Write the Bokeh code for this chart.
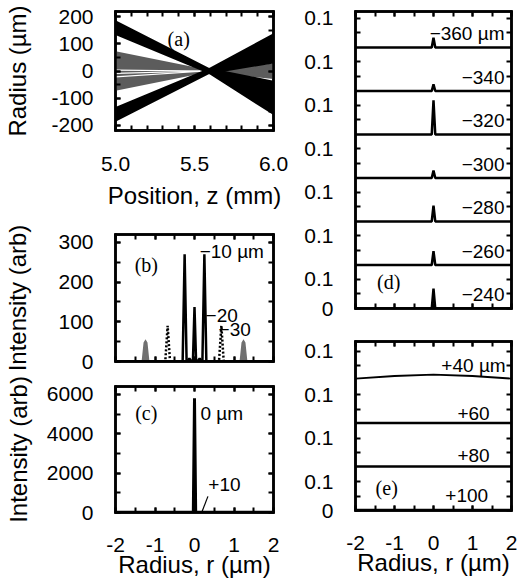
from bokeh.plotting import figure
from bokeh.layouts import row, column
from bokeh.models import (Range1d, LinearAxis, SingleIntervalTicker, FixedTicker, Label,
                          CustomJSTickFormatter)
from bokeh.embed import file_html
from bokeh.resources import INLINE

# ---------------- data ----------------
# (a) ray bundles: radius (um) at z = 5.0, waist, 6.0 mm
a_z = [5.0, 5.59, 6.0]
a_black_down_top = [188, 12, -36]
a_black_down_bot = [133, -10, -163]
a_black_up_top = [-133, 10, 140]
a_black_up_bot = [-188, -12, 28]
a_grey_down_top = [73, 4, 5]
a_grey_down_bot = [0, -4, -30]
a_grey_up_top = [0, 4, 28]
a_grey_up_bot = [-73, -4, -5]
a_white_z = [5.0, 5.57]
a_white_r0 = [3, -9, -22]

# (b) intensity profiles before focus
b_m10_x = [-2, -0.30, -0.25, -0.20, 0.20, 0.25, 0.30, 2]
b_m10_y = [0, 0, 270, 0, 0, 270, 0, 0]
b_m20_x = [-2, -0.18, -0.13, -0.08, -0.04, 0, 0.04, 0.08, 0.13, 0.18, 2]
b_m20_y = [0, 0, 8, 0, 0, 137, 0, 0, 8, 0, 0]
b_m30_x = [-2, -0.74, -0.68, -0.62, 0.62, 0.68, 0.74, 2]
b_m30_y = [0, 0, 90, 0, 0, 90, 0, 0]
b_m40_x = [-2, -1.34, -1.29, -1.24, -1.19, -1.14, 1.14, 1.19, 1.24, 1.29, 1.34, 2]
b_m40_y = [0, 0, 48, 56, 48, 0, 0, 48, 56, 48, 0, 0]
b_labels = ["\u221210 \u00b5m", "\u221220", "\u221230"]

# (c) at focus
c_0_x = [-2, -0.03, 0, 0.03, 2]
c_0_y = [0, 0, 5800, 0, 0]
c_p10_x = [-2, -1, 0, 1, 2]
c_p10_y = [20, 20, 30, 20, 20]
c_lead_x = [0.34, 0.19]
c_lead_y = [820, 40]
c_labels = ["0 \u00b5m", "+10"]

# (d) stacked profiles (-360 ... -240 um)
d_labels = ["\u2212360 \u00b5m", "\u2212340", "\u2212320", "\u2212300", "\u2212280", "\u2212260", "\u2212240"]
d_peak = [0.034, 0.023, 0.118, 0.026, 0.055, 0.048, 0.069]
d_x = [-2, -0.045, 0, 0.045, 2]

# (e) stacked profiles (+40 ... +100 um)
e_labels = ["+40 \u00b5m", "+60", "+80", "+100"]
e_x = [-2, -1, 0, 1, 2]
e_vals = [
    [0.005, 0.014, 0.019, 0.014, 0.005],
    [0.002, 0.002, 0.002, 0.002, 0.002],
    [0.002, 0.002, 0.002, 0.002, 0.002],
    [0.002, 0.002, 0.002, 0.002, 0.002],
]

STEP = 0.15  # vertical offset between stacked curves

FONT = "Liberation Sans"
SERIF = "Liberation Serif"
TICK = "21px"
TITLE = "24px"
ANNOT = "19px"

L_BL, L_FW, L_BR = 115, 158, 19
R_BL, R_FW, R_BR = 63, 156, 6


def base_fig(xr, yr, fw, fh, bl, br, bt, bb):
    p = figure(x_range=Range1d(*xr), y_range=Range1d(*yr),
               frame_width=fw, frame_height=fh,
               min_border_left=bl, min_border_right=br,
               min_border_top=bt, min_border_bottom=bb,
               output_backend="svg", toolbar_location=None)
    p.xgrid.visible = False
    p.ygrid.visible = False
    p.outline_line_color = "black"
    p.outline_line_width = 2.5
    p.background_fill_color = "white"
    p.border_fill_color = "white"
    return p


def tick_style(ax):
    ax.axis_line_color = "black"
    ax.axis_line_width = 2.5
    ax.axis_line_cap = "square"
    ax.major_tick_in = 5
    ax.major_tick_out = 0
    ax.minor_tick_in = 5
    ax.minor_tick_out = 0
    ax.major_tick_line_width = 2
    ax.minor_tick_line_width = 2
    ax.major_tick_line_color = "black"
    ax.minor_tick_line_color = "black"


def shown(ax, standoff, code):
    ax.formatter = CustomJSTickFormatter(code=code)
    ax.major_label_text_font = FONT
    ax.major_label_text_font_size = TICK
    ax.major_label_text_color = "black"
    ax.major_label_standoff = standoff


def hidden(ax):
    ax.formatter = CustomJSTickFormatter(code="return '';")
    ax.major_label_text_color = None
    ax.major_label_text_font_size = "1px"
    ax.major_label_standoff = 0


INT_FMT = "return tick.toFixed(0);"


def axes(p, xticker, yticker, xcode=None, ycode=INT_FMT, xstand=25):
    bx = p.below[0]
    ly = p.left[0]
    bx.ticker = xticker
    ly.ticker = yticker
    top = LinearAxis(ticker=xticker)
    right = LinearAxis(ticker=yticker)
    p.add_layout(top, "above")
    p.add_layout(right, "right")
    for ax in (bx, ly, top, right):
        tick_style(ax)
    hidden(top)
    hidden(right)
    if xcode is not None:
        shown(bx, xstand, xcode)
    else:
        hidden(bx)
    shown(ly, 22, ycode)
    return bx, ly


def title(ax, text, standoff):
    ax.axis_label = text
    ax.axis_label_text_font = FONT
    ax.axis_label_text_font_size = TITLE
    ax.axis_label_text_font_style = "normal"
    ax.axis_label_text_color = "black"
    ax.axis_label_standoff = standoff


def note(p, x, y, text, align="left", font=FONT, size=ANNOT):
    p.add_layout(Label(x=x, y=y, text=text, text_font=font, text_font_size=size,
                       text_color="black", text_align=align, text_baseline="middle"))


# ---------------- (a) ----------------
pa = base_fig((5.0, 6.0), (-220, 220), L_FW, 119, L_BL, L_BR, 11, 78)
bx, ly = axes(pa, SingleIntervalTicker(interval=0.5, num_minor_ticks=5),
              SingleIntervalTicker(interval=100, num_minor_ticks=2),
              xcode="return tick.toFixed(1);", xstand=26)
title(ly, "Radius (\u00b5m)", 17)
title(bx, "Position, z (mm)", 8)
GREY_A = "#5c5c5c"
pa.varea(x=a_z, y1=a_grey_down_bot, y2=a_grey_down_top, fill_color=GREY_A)
pa.varea(x=a_z, y1=a_grey_up_bot, y2=a_grey_up_top, fill_color=GREY_A)
for r0 in a_white_r0:
    pa.line(x=a_white_z, y=[r0, 0], line_color="white", line_width=1.2)
pa.varea(x=a_z, y1=a_black_down_bot, y2=a_black_down_top, fill_color="black")
pa.varea(x=a_z, y1=a_black_up_bot, y2=a_black_up_top, fill_color="black")
note(pa, 5.40, 120, "(a)", align="center", font=SERIF, size="20px")

# ---------------- (b) ----------------
pb = base_fig((-2, 2), (0, 320), L_FW, 127, L_BL, L_BR, 23, 15)
bx, ly = axes(pb, SingleIntervalTicker(interval=1, num_minor_ticks=2),
              SingleIntervalTicker(interval=100, num_minor_ticks=2))
title(ly, "Intensity (arb)", 24)
pb.varea(x=b_m40_x, y1=0, y2=b_m40_y, fill_color="#707070")
pb.line(x=b_m30_x, y=b_m30_y, line_color="black", line_width=2.5, line_dash="2 2")
pb.line(x=b_m20_x, y=b_m20_y, line_color="black", line_width=2.5)
pb.line(x=b_m10_x, y=b_m10_y, line_color="black", line_width=2.5)
note(pb, -1.22, 244, "(b)", align="center", font=SERIF, size="20px")
note(pb, 0.13, 277, b_labels[0])
note(pb, 0.28, 116, b_labels[1])
note(pb, 0.61, 80, b_labels[2])

# ---------------- (c) ----------------
pc = base_fig((-2, 2), (0, 6400), L_FW, 126, L_BL, L_BR, 10, 66)
bx, ly = axes(pc, SingleIntervalTicker(interval=1, num_minor_ticks=2),
              SingleIntervalTicker(interval=2000, num_minor_ticks=2),
              xcode=INT_FMT, xstand=25)
title(ly, "Intensity (arb)", 12)
title(bx, "Radius, r (\u00b5m)", -4)
pc.line(x=c_p10_x, y=c_p10_y, line_color="black", line_width=2.5)
pc.line(x=c_0_x, y=c_0_y, line_color="black", line_width=3)
pc.line(x=c_lead_x, y=c_lead_y, line_color="black", line_width=1.2)
note(pc, -1.22, 5030, "(c)", align="center", font=SERIF, size="20px")
note(pc, 0.15, 5030, c_labels[0])
note(pc, 0.35, 1420, c_labels[1])

# ---------------- (d) ----------------
n_d = len(d_labels)
d_top = (n_d - 1) * STEP + 0.124
pd = base_fig((-2, 2), (0, d_top), R_FW, 297, R_BL, R_BR, 11, 15)
d_major = [0] + [k * STEP + 0.1 for k in range(n_d)]
d_minor = [k * STEP + 0.05 for k in range(n_d)]
STRIP_FMT = "return tick < 0.01 ? '0' : '0.1';"
axes(pd, SingleIntervalTicker(interval=1, num_minor_ticks=2),
     FixedTicker(ticks=d_major, minor_ticks=d_minor), ycode=STRIP_FMT)
for i, (lab, h) in enumerate(zip(d_labels, d_peak)):
    off = (n_d - 1 - i) * STEP
    pd.line(x=d_x, y=[off, off, off + h, off, off], line_color="black", line_width=2.5)
    note(pd, 1.82, off + 0.048, lab, align="right")
note(pd, -1.15, 0.093, "(d)", align="center", font=SERIF, size="20px")

# ---------------- (e) ----------------
n_e = len(e_labels)
e_top = (n_e - 1) * STEP + 0.133
pe = base_fig((-2, 2), (0, e_top), R_FW, 169, R_BL, R_BR, 18, 66)
e_major = [0] + [k * STEP + 0.1 for k in range(n_e)]
e_minor = [k * STEP + 0.05 for k in range(n_e)]
bx, ly = axes(pe, SingleIntervalTicker(interval=1, num_minor_ticks=2),
              FixedTicker(ticks=e_major, minor_ticks=e_minor),
              xcode=INT_FMT, ycode=STRIP_FMT, xstand=25)
title(bx, "Radius, r (\u00b5m)", -4)
e_lab_x = [1.85, 1.44, 1.44, 1.40]
e_lab_dy = [0.05, 0.034, 0.04, 0.052]
for i, (lab, vals) in enumerate(zip(e_labels, e_vals)):
    off = (n_e - 1 - i) * STEP
    pe.line(x=e_x, y=[off + v for v in vals], line_color="black",
            line_width=1.8 if i == 0 else 2.5)
    note(pe, e_lab_x[i], off + e_lab_dy[i], lab, align="right")
note(pe, -1.2, 0.076, "(e)", align="center", font=SERIF, size="20px")

layout = row(column(pa, pb, pc), column(pd, pe))
open("out.html", "w").write(file_html(layout, INLINE))
